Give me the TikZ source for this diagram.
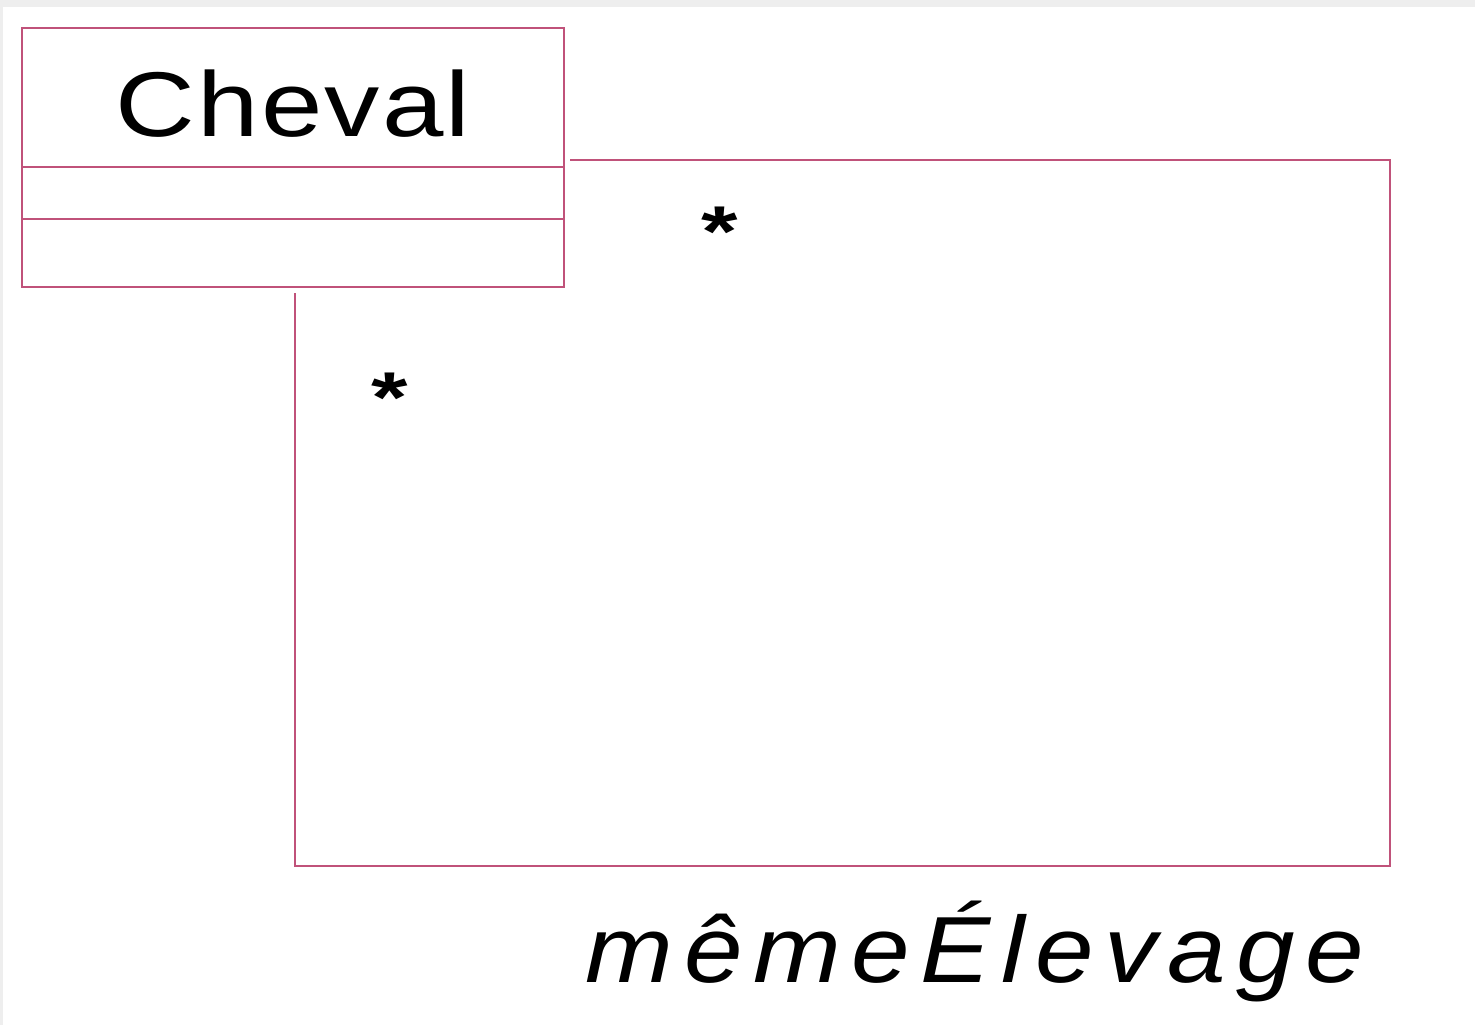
\documentclass[tikz,border=0pt]{standalone}
\usepackage{fontspec}
\setmainfont{Liberation Sans}
\usetikzlibrary{positioning}
\definecolor{umlrose}{RGB}{192,82,122}
\definecolor{pagegrey}{RGB}{238,238,238}

\tikzset{
    compart/.style={draw=umlrose, line width=1.4pt, rectangle, minimum width=271pt, inner sep=0pt, outer sep=0pt},
    assoc/.style={draw=umlrose, line width=1.4pt},
    mult/.style={font=\fontsize{36}{36}\selectfont\bfseries, inner sep=0pt, xscale=1.3, anchor=center}
}

\begin{document}
\begin{tikzpicture}[x=0.5pt, y=-0.5pt]
        \useasboundingbox (0,0) rectangle (1475,1025);
        \fill[pagegrey] (0,0) rectangle (1475,1025);
        \fill[white] (3,7) rectangle (1475,1025);

        % la classe et ses trois compartiments
        \node[compart, minimum height=69.5pt, anchor=north west] (nom) at (22,28) {};
        \node[compart, minimum height=26pt, below=0pt of nom] (attrs) {};
        \node[compart, minimum height=34pt, below=0pt of attrs] (ops) {};
        \node[anchor=base, inner sep=0pt, xscale=1.2, font=\fontsize{46}{46}\selectfont\addfontfeature{LetterSpace=2}] (titre) at (293,136) {Cheval};

        % association reflexive
        \coordinate (bout1) at (570,160);
        \coordinate (bout2) at (295,293);
        \coordinate (c1) at (1390,160);
        \coordinate (c2) at (1390,866);
        \coordinate (c3) at (295,866);
        \draw[assoc] (bout1) -- (c1) -- (c2) -- (c3) -- (bout2);

        \node[mult] (m1) at (720,232) {*};
        \node[mult] (m2) at (390,398) {*};
        \node[anchor=base, inner sep=0pt, xscale=1.12, font=\fontsize{47}{47}\selectfont\itshape\addfontfeature{LetterSpace=10}] (role) at (975,982) {mêmeÉlevage};
    \end{tikzpicture}
\end{document}
